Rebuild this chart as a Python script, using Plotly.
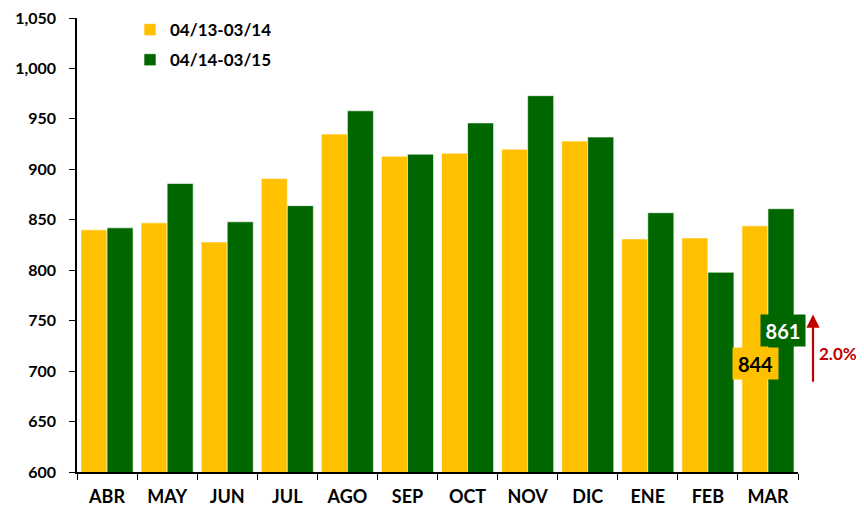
import plotly.graph_objects as go

months = ["ABR", "MAY", "JUN", "JUL", "AGO", "SEP", "OCT", "NOV", "DIC", "ENE", "FEB", "MAR"]
series_1314 = [840, 847, 828, 891, 935, 913, 916, 920, 928, 831, 832, 844]
series_1415 = [842, 886, 848, 864, 958, 915, 946, 973, 932, 857, 798, 861]
y_ticks = [600, 650, 700, 750, 800, 850, 900, 950, 1000, 1050]
name_1314 = "04/13-03/14"
name_1415 = "04/14-03/15"
yellow = "#FFC000"
green = "#006600"
red = "#C00000"
FONT = "Lato"

fig = go.Figure()
fig.add_trace(go.Bar(x=months, y=series_1314, name=name_1314, legendgroup="a",
                     marker=dict(color=yellow, line=dict(color="rgba(255,255,255,0.6)", width=1))))
fig.add_trace(go.Bar(x=months, y=series_1415, name=name_1415, legendgroup="b",
                     marker=dict(color=green, line=dict(color="rgba(255,255,255,0.6)", width=1))))

# page body has an 8px margin; screen coords -> paper
OFF = 8
W0, W1 = 77 - OFF, 798 - OFF
def px(x):
    return (x - OFF - W0) / (W1 - W0)

fig.add_annotation(x=px(783), xref="paper", y=740.5, yref="y", text=str(series_1415[-1]),
                   xanchor="center", yanchor="middle",
                   showarrow=False, bgcolor=green, borderpad=0, width=44, height=31,
                   font=dict(family=FONT, size=20, color="white", weight="bold"))
fig.add_annotation(x=px(755), xref="paper", y=707.5, yref="y", text=str(series_1314[-1]),
                   xanchor="center", yanchor="middle",
                   showarrow=False, bgcolor=yellow, borderpad=0, width=45, height=31,
                   font=dict(family=FONT, size=20, color="black", weight="bold"))
pct = (series_1415[-1] - series_1314[-1]) / series_1314[-1] * 100
fig.add_annotation(x=px(813), xref="paper", y=756, yref="y",
                   ax=0, axref="pixel", ay=688, ayref="y", text="",
                   showarrow=True, arrowhead=2, arrowsize=1.2, arrowwidth=2.2, arrowcolor=red)
fig.add_annotation(x=px(817), xref="paper", y=717, yref="y", xanchor="left",
                   text=f"{pct:.1f}%", showarrow=False,
                   font=dict(family=FONT, size=17, color=red, weight="bold"))

fig.update_layout(
    width=856, height=499,
    margin=dict(l=69, r=66, t=10, b=35, autoexpand=False),
    paper_bgcolor="white", plot_bgcolor="white",
    barmode="group", bargap=0.133, bargroupgap=0,
    font=dict(family=FONT, color="black", weight="bold"),
    legend=dict(x=px(130), y=1.013, xanchor="left", yanchor="top",
                bgcolor="rgba(0,0,0,0)", font=dict(size=17, family=FONT, weight="bold"),
                itemwidth=30, tracegroupgap=5),
    showlegend=True,
)
fig.update_xaxes(showline=True, linecolor="black", linewidth=1.5, ticks="outside",
                 tickson="boundaries", ticklen=6, tickcolor="black", ticklabelstandoff=8,
                 automargin=False, ticklabeloverflow="allow",
                 tickfont=dict(size=18, family=FONT, weight="bold"), showgrid=False)
fig.update_yaxes(range=[y_ticks[0], y_ticks[-1]], tickmode="array", tickvals=y_ticks,
                 ticktext=[f"{v:,}" for v in y_ticks], showline=True,
                 linecolor="black", linewidth=1.5, ticks="outside", ticklen=6,
                 tickcolor="black", showgrid=False, zeroline=False, ticklabelstandoff=10,
                 automargin=False, ticklabeloverflow="allow",
                 tickfont=dict(size=16, family=FONT, weight="bold"))

fig.write_html("out.html")
